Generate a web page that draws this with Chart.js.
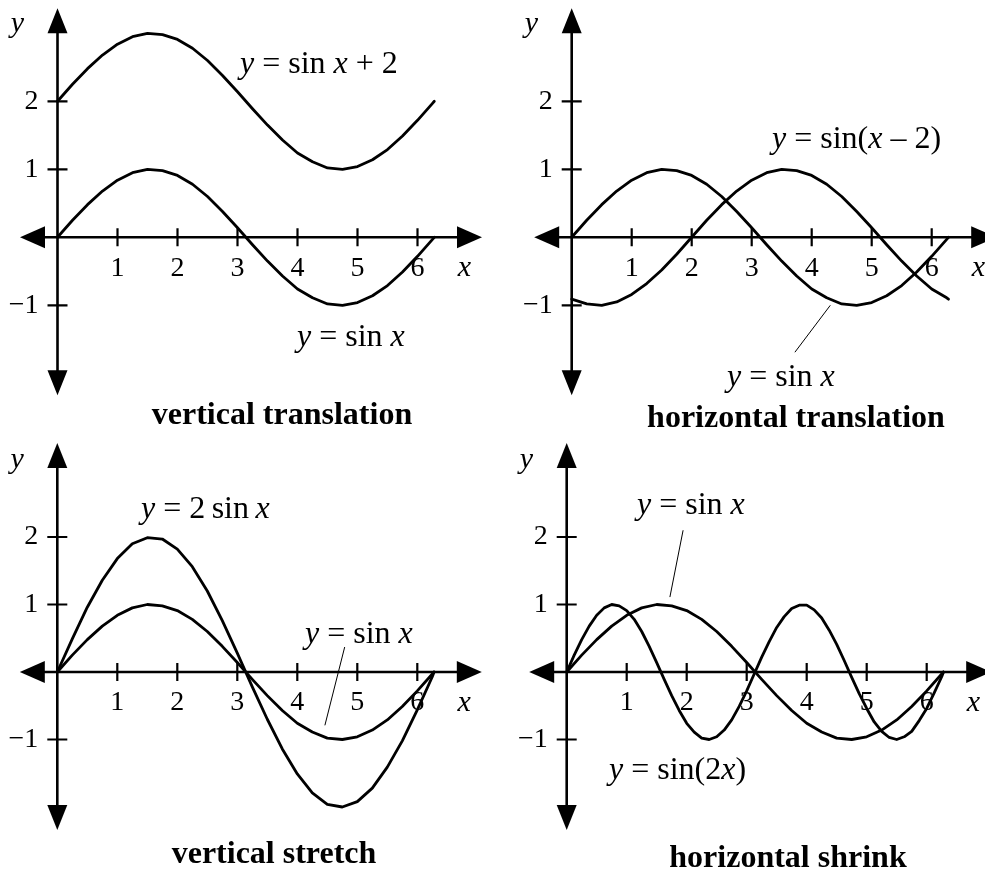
<!DOCTYPE html>
<html>
<head>
<meta charset="utf-8">
<title>Transformations of the sine curve</title>
<script src="https://cdn.jsdelivr.net/npm/chart.js@4.4.0/dist/chart.umd.min.js"></script>
<style>
  html, body { margin: 0; padding: 0; background: #fff; }
  body { width: 985px; height: 874px; position: relative; overflow: hidden;
         font-family: "Liberation Serif", "Times New Roman", serif; color: #000; }
  canvas { position: absolute; }
  .eq { position: absolute; white-space: nowrap; font-size: 32px; line-height: 1;
        transform: translateY(-50%); }
  .eq i { font-style: italic; }
  .title { position: absolute; white-space: nowrap; font-weight: bold; font-size: 32px;
           line-height: 1; transform: translate(-50%, -50%); }
</style>
</head>
<body>
<canvas id="pTL"></canvas>
<canvas id="pTR"></canvas>
<canvas id="pBL"></canvas>
<canvas id="pBR"></canvas>

<div class="eq" style="left:240px;top:62px"><i>y</i> = sin<i> x</i> + 2</div>
<div class="eq" style="left:297px;top:335px"><i>y</i> = sin<i> x</i></div>
<div class="title" style="left:282px;top:413px">vertical translation</div>

<div class="eq" style="left:772px;top:137px"><i>y</i> = sin(<i>x</i> – 2)</div>
<div class="eq" style="left:727px;top:375px"><i>y</i> = sin<i> x</i></div>
<div class="title" style="left:796px;top:416px">horizontal translation</div>

<div class="eq" style="left:141px;top:507px"><i>y</i> = 2&thinsp;sin&thinsp;<i>x</i></div>
<div class="eq" style="left:305px;top:632px"><i>y</i> = sin<i> x</i></div>
<div class="title" style="left:274px;top:852px">vertical stretch</div>

<div class="eq" style="left:637px;top:503px"><i>y</i> = sin<i> x</i></div>
<div class="eq" style="left:609px;top:768px"><i>y</i> = sin(2<i>x</i>)</div>
<div class="title" style="left:788px;top:856px">horizontal shrink</div>

<script>
// ---- data ----
const xs = [0, 0.25, 0.5, 0.75, 1, 1.25, 1.5, 1.75, 2, 2.25, 2.5, 2.75, 3, 3.25, 3.5,
            3.75, 4, 4.25, 4.5, 4.75, 5, 5.25, 5.5, 5.75, 6, 6.25, 6.28];
const sinX = [0, 0.25, 0.48, 0.68, 0.84, 0.95, 1.00, 0.98, 0.91, 0.78, 0.60, 0.38, 0.14,
              -0.11, -0.35, -0.57, -0.76, -0.89, -0.98, -1.00, -0.96, -0.86, -0.71, -0.51,
              -0.28, -0.03, 0];
const sinXPlus2 = [2, 2.25, 2.48, 2.68, 2.84, 2.95, 3.00, 2.98, 2.91, 2.78, 2.60, 2.38, 2.14,
                   1.89, 1.65, 1.43, 1.24, 1.11, 1.02, 1.00, 1.04, 1.14, 1.29, 1.49, 1.72,
                   1.97, 2.00];
const sinXMinus2 = [-0.91, -0.98, -1.00, -0.95, -0.84, -0.68, -0.48, -0.25, 0, 0.25, 0.48,
                    0.68, 0.84, 0.95, 1.00, 0.98, 0.91, 0.78, 0.60, 0.38, 0.14, -0.11, -0.35,
                    -0.57, -0.76, -0.89, -0.91];
const twoSinX = [0, 0.49, 0.96, 1.36, 1.68, 1.90, 1.99, 1.97, 1.82, 1.56, 1.20, 0.76, 0.28,
                 -0.22, -0.70, -1.14, -1.51, -1.79, -1.96, -2.00, -1.92, -1.72, -1.41, -1.02,
                 -0.56, -0.07, 0];
const xsFine = [0, 0.125, 0.25, 0.375, 0.5, 0.625, 0.75, 0.875, 1, 1.125, 1.25, 1.375, 1.5,
                1.625, 1.75, 1.875, 2, 2.125, 2.25, 2.375, 2.5, 2.625, 2.75, 2.875, 3, 3.125,
                3.25, 3.375, 3.5, 3.625, 3.75, 3.875, 4, 4.125, 4.25, 4.375, 4.5, 4.625, 4.75,
                4.875, 5, 5.125, 5.25, 5.375, 5.5, 5.625, 5.75, 5.875, 6, 6.125, 6.25, 6.28];
const sin2X = [0, 0.25, 0.48, 0.68, 0.84, 0.95, 1.00, 0.98, 0.91, 0.78, 0.60, 0.38, 0.14,
               -0.11, -0.35, -0.57, -0.76, -0.89, -0.98, -1.00, -0.96, -0.86, -0.71, -0.51,
               -0.28, -0.03, 0.22, 0.45, 0.66, 0.82, 0.94, 0.99, 0.99, 0.92, 0.80, 0.62, 0.41,
               0.17, -0.08, -0.32, -0.54, -0.74, -0.88, -0.97, -1.00, -0.96, -0.88, -0.72,
               -0.54, -0.31, -0.07, 0];

// leader lines from a label to its curve: [x0, x1], [y0, y1]
const leaderTRx = [3.72, 4.31], leaderTRy = [-1.69, -1.00];
const leaderBLx = [4.79, 4.46], leaderBLy = [0.37, -0.79];
const leaderBRx = [1.94, 1.72], leaderBRy = [2.10, 1.11];

// axis ticks
const xTickValues = [1, 2, 3, 4, 5, 6];
const yTickValues = [2, 1, -1];
const yTickLabels = ['2', '1', '\u22121'];

// ---- drawing ----
const pts = (xv, yv) => xv.map((x, i) => ({ x: x, y: yv[i] }));
const curve = (xv, yv) => ({ data: pts(xv, yv), borderColor: '#000', borderWidth: 2.8,
  pointRadius: 0, tension: 0, fill: false, borderJoinStyle: 'round', borderCapStyle: 'round' });
const leader = (xv, yv) => ({ data: pts(xv, yv), borderColor: '#000', borderWidth: 1,
  pointRadius: 0, tension: 0, fill: false });

// Cartesian axes with arrowheads on both ends, crossing tick marks and labels
const axisArrows = {
  id: 'axisArrows',
  beforeDatasetsDraw(chart, args, o) {
    const { ctx, scales: { x, y } } = chart;
    const x0 = x.getPixelForValue(0), y0 = y.getPixelForValue(0);
    const xl = x.getPixelForValue(o.xFrom), xr = x.getPixelForValue(o.xTo);
    const yt = y.getPixelForValue(o.yTo), yb = y.getPixelForValue(o.yFrom);
    const L = 25, W = 11;
    ctx.save();
    ctx.strokeStyle = '#000';
    ctx.fillStyle = '#000';
    ctx.lineWidth = 2.6;
    ctx.beginPath();
    ctx.moveTo(xl + L - 2, y0); ctx.lineTo(xr - L + 2, y0);
    ctx.moveTo(x0, yt + L - 2); ctx.lineTo(x0, yb - L + 2);
    ctx.stroke();
    const tri = (a, b, c) => { ctx.beginPath(); ctx.moveTo(a[0], a[1]); ctx.lineTo(b[0], b[1]);
      ctx.lineTo(c[0], c[1]); ctx.closePath(); ctx.fill(); };
    tri([xl, y0], [xl + L, y0 - W], [xl + L, y0 + W]);
    tri([xr, y0], [xr - L, y0 - W], [xr - L, y0 + W]);
    tri([x0, yt], [x0 - W + 1, yt + L], [x0 + W - 1, yt + L]);
    tri([x0, yb], [x0 - W + 1, yb - L], [x0 + W - 1, yb - L]);

    ctx.lineWidth = 2.2;
    ctx.beginPath();
    xTickValues.forEach(v => { const p = x.getPixelForValue(v);
      ctx.moveTo(p, y0 - 9); ctx.lineTo(p, y0 + 9); });
    yTickValues.forEach(v => { const p = y.getPixelForValue(v);
      ctx.moveTo(x0 - 10, p); ctx.lineTo(x0 + 10, p); });
    ctx.stroke();

    ctx.font = '28px "Liberation Serif", "Times New Roman", serif';
    ctx.textBaseline = 'middle';
    ctx.textAlign = 'center';
    xTickValues.forEach(v => ctx.fillText(String(v), x.getPixelForValue(v), y0 + 31));
    ctx.textAlign = 'right';
    yTickValues.forEach((v, i) => ctx.fillText(yTickLabels[i], x0 - 19, y.getPixelForValue(v)));

    ctx.font = 'italic 30px "Liberation Serif", "Times New Roman", serif';
    ctx.textAlign = 'center';
    ctx.fillText('x', x.getPixelForValue(o.xName[0]), y.getPixelForValue(o.xName[1]));
    ctx.fillText('y', x.getPixelForValue(o.yName[0]), y.getPixelForValue(o.yName[1]));
    ctx.restore();
  }
};

function panel(id, g, datasets) {
  const cv = document.getElementById(id);
  cv.width = g.w; cv.height = g.h;
  cv.style.left = g.left + 'px'; cv.style.top = g.top + 'px';
  const xmin = -g.ox / g.ux, xmax = (g.w - g.ox) / g.ux;
  const ymax = g.oy / g.uy, ymin = -(g.h - g.oy) / g.uy;
  const yTo = 229 / g.uy, yFrom = -158 / g.uy;
  new Chart(cv, {
    type: 'line',
    data: { datasets: datasets },
    options: {
      responsive: false, animation: false, events: [],
      layout: { padding: 0 },
      scales: {
        x: { type: 'linear', min: xmin, max: xmax, display: false },
        y: { type: 'linear', min: ymin, max: ymax, display: false }
      },
      plugins: {
        legend: { display: false }, tooltip: { enabled: false },
        axisArrows: { xFrom: -37.5 / g.ux, xTo: 424.5 / g.ux, yFrom: yFrom, yTo: yTo,
                      xName: [6.78, -0.46], yName: [-0.67, 3.14] }
      }
    },
    plugins: [axisArrows]
  });
}

panel('pTL', { left: 0, top: 0, w: 492, h: 437, ox: 57.5, oy: 237.3, ux: 60, uy: 68 },
  [curve(xs, sinXPlus2), curve(xs, sinX)]);
panel('pTR', { left: 492, top: 0, w: 493, h: 437, ox: 79.7, oy: 237.3, ux: 60, uy: 68 },
  [curve(xs, sinX), curve(xs, sinXMinus2), leader(leaderTRx, leaderTRy)]);
panel('pBL', { left: 0, top: 437, w: 492, h: 437, ox: 57.3, oy: 235, ux: 60, uy: 67.5 },
  [curve(xs, twoSinX), curve(xs, sinX), leader(leaderBLx, leaderBLy)]);
panel('pBR', { left: 492, top: 437, w: 493, h: 437, ox: 74.7, oy: 235, ux: 60, uy: 67.5 },
  [curve(xsFine, sin2X), curve(xs, sinX), leader(leaderBRx, leaderBRy)]);
</script>
</body>
</html>
